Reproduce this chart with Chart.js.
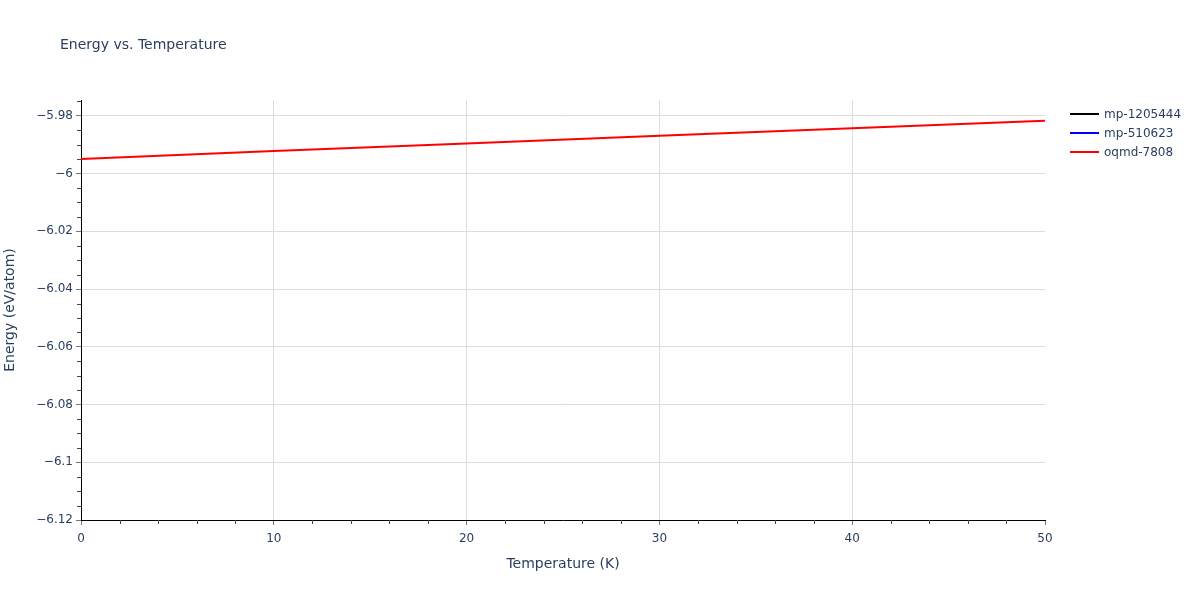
<!DOCTYPE html>
<html>
<head>
<meta charset="utf-8">
<script src="https://cdn.jsdelivr.net/npm/chart.js@4/dist/chart.umd.min.js"></script>
<style>
  html, body { margin: 0; padding: 0; background: #fff; }
  #chart { display: block; }
</style>
</head>
<body>
<canvas id="chart" width="1200" height="600"></canvas>
<script>
// data (black and blue traces show no visible line)
const temperatures = [0, 10, 20, 30, 40, 50];
const mp1205444 = [null, null, null, null, null, null];
const mp510623 = [null, null, null, null, null, null];
const oqmd7808 = [-5.9949, -5.9922, -5.9896, -5.9869, -5.9843, -5.9817];
const seriesNames = ['mp-1205444', 'mp-510623', 'oqmd-7808'];
const seriesColors = ['#000000', '#0000ff', '#ff0000'];
const yTicks = [-6.12, -6.1, -6.08, -6.06, -6.04, -6.02, -6, -5.98];
const xTicks = [0, 10, 20, 30, 40, 50];

const FONT = '"DejaVu Sans", Verdana, sans-serif';
const TEXT = '#2a3f5f';

function points(ys) {
    var pts = [];
    for (var i = 0; i < temperatures.length; i++) {
        pts.push({x: temperatures[i], y: ys[i]});
    }
    return pts;
}

function fmt(v) {
    var s = String(Number(v.toFixed(2)));
    return s.replace('-', '\u2212');
}

var allSeries = [mp1205444, mp510623, oqmd7808];
var datasets = [];
for (var i = 0; i < allSeries.length; i++) {
    datasets.push({
        label: seriesNames[i],
        data: points(allSeries[i]),
        borderColor: seriesColors[i],
        backgroundColor: seriesColors[i],
        borderWidth: 2,
        pointRadius: 0,
        fill: false,
        tension: 0,
        order: allSeries.length - i   // later traces on top, like plotly
    });
}

//draws title, minor ticks and the legend
const extras = {
    id: 'extras',
    afterDraw(chart) {
        var ctx = chart.ctx;
        var xs = chart.scales.x, ys = chart.scales.y;
        ctx.save();
        ctx.fillStyle = TEXT;
        ctx.font = '14px ' + FONT;
        ctx.textBaseline = 'middle';
        ctx.textAlign = 'left';
        ctx.fillText('Energy vs. Temperature', 60, 45);

        // minor ticks
        ctx.strokeStyle = '#444';
        ctx.lineWidth = 1;
        ctx.beginPath();
        for (var t = 2; t < 50; t += 2) {
            if (t % 10 === 0) continue;
            var px = Math.round(xs.getPixelForValue(t)) + 0.5;
            ctx.moveTo(px, xs.top);
            ctx.lineTo(px, xs.top + 4);
        }
        for (var k = 0; k <= 29; k++) {
            var v = -6.12 + k * 0.005;
            if (k % 4 === 0) continue;
            var py = Math.round(ys.getPixelForValue(v)) + 0.5;
            ctx.moveTo(ys.right, py);
            ctx.lineTo(ys.right - 4, py);
        }
        ctx.stroke();

        // legend
        ctx.font = '12px ' + FONT;
        for (var i = 0; i < chart.data.datasets.length; i++) {
            var ds = chart.data.datasets[i];
            var y = 114 + i * 19;
            ctx.strokeStyle = ds.borderColor;
            ctx.lineWidth = 2;
            ctx.beginPath();
            ctx.moveTo(1070, y);
            ctx.lineTo(1099, y);
            ctx.stroke();
            ctx.fillStyle = TEXT;
            ctx.fillText(ds.label, 1104, y + 1);
        }
        ctx.restore();
    }
};

var chart = new Chart(document.getElementById('chart'), {
    type: 'line',
    data: { datasets: datasets },
    plugins: [extras],
    options: {
        responsive: false,
        animation: false,
        devicePixelRatio: 1,
        spanGaps: false,
        layout: { padding: { top: 100, right: 155, left: 0, bottom: 0 } },
        plugins: {
            legend: { display: false },
            tooltip: { enabled: false }
        },
        scales: {
            x: {
                type: 'linear',
                min: 0,
                max: 50,
                afterFit: function(s) { s.height = 80; },
                afterBuildTicks: function(s) {
                    s.ticks = xTicks.map(function(v) { return {value: v}; });
                },
                border: { color: '#000', width: 1 },
                grid: {
                    color: function(c) { return (c.tick && c.tick.value === 50) ? 'rgba(0,0,0,0)' : '#dddddd'; },
                    tickColor: '#777', tickLength: 5, lineWidth: 1
                },
                ticks: { color: TEXT, font: { family: FONT, size: 12 }, padding: 7, maxRotation: 0,
                         callback: function(v) { return String(v); } },
                title: { display: true, text: 'Temperature (K)', color: TEXT,
                         font: { family: FONT, size: 14 }, padding: { top: 0, bottom: 27 } }
            },
            y: {
                type: 'linear',
                min: -6.12,
                max: -5.9745,
                afterFit: function(s) { s.width = 81; },
                afterBuildTicks: function(s) {
                    s.ticks = yTicks.map(function(v) { return {value: v}; });
                },
                border: { color: '#000', width: 1 },
                grid: { color: '#dddddd', tickColor: '#777', tickLength: 5, lineWidth: 1 },
                ticks: { color: TEXT, font: { family: FONT, size: 12 }, padding: 3,
                         callback: function(v) { return fmt(v); } },
                title: { display: true, text: 'Energy (eV/atom)', color: TEXT,
                         font: { family: FONT, size: 14 }, padding: { top: 2, bottom: 0 } }
            }
        }
    }
});
</script>
</body>
</html>
